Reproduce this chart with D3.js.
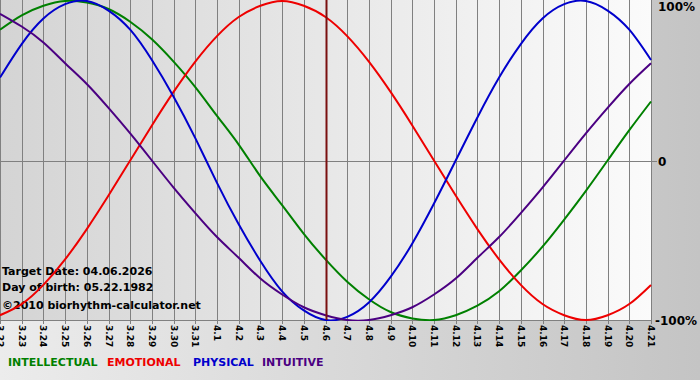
<!DOCTYPE html>
<html>
<head>
<meta charset="utf-8">
<script src="https://cdn.jsdelivr.net/npm/d3@7"></script>
<style>
  body { margin: 0; padding: 0; }
  svg { display: block; }
</style>
</head>
<body>
<svg id="chart"></svg>
<script>
// day labels, 3.22 .. 4.21
var days = ["3.22","3.23","3.24","3.25","3.26","3.27","3.28","3.29","3.30","3.31",
            "4.1","4.2","4.3","4.4","4.5","4.6","4.7","4.8","4.9","4.10",
            "4.11","4.12","4.13","4.14","4.15","4.16","4.17","4.18","4.19","4.20","4.21"]

// values, one per day (-1 .. 1)
var intellectual = [0.82,0.91,0.97,1.00,0.99,0.95,0.87,0.76,0.62,0.46,0.28,0.10,-0.10,-0.28,-0.46,-0.62,
                    -0.76,-0.87,-0.95,-0.99,-1.00,-0.97,-0.91,-0.82,-0.69,-0.54,-0.37,-0.19,0.00,0.19,0.37]
var emotional = [-0.97,-0.90,-0.78,-0.62,-0.43,-0.22,0.00,0.22,0.43,0.62,0.78,0.90,0.97,1.00,0.97,0.90,
                 0.78,0.62,0.43,0.22,0.00,-0.22,-0.43,-0.62,-0.78,-0.90,-0.97,-1.00,-0.97,-0.90,-0.78]
var physical = [0.52,0.73,0.89,0.98,1.00,0.94,0.82,0.63,0.40,0.14,-0.14,-0.40,-0.63,-0.82,-0.94,-1.00,
                -0.98,-0.89,-0.73,-0.52,-0.27,0.00,0.27,0.52,0.73,0.89,0.98,1.00,0.94,0.82,0.63]
var intuitive = [0.92,0.84,0.74,0.61,0.48,0.33,0.17,0.00,-0.17,-0.33,-0.48,-0.61,-0.74,-0.84,-0.92,-0.97,
                 -1.00,-1.00,-0.97,-0.92,-0.84,-0.74,-0.61,-0.48,-0.33,-0.17,0.00,0.17,0.33,0.48,0.61]

var yLabels = ["100%", "0", "-100%"]
var yLabelValues = [1, 0, -1]
var targetIndex = 15

var series = [
    {name: "INTELLECTUAL", values: intellectual, color: "#008000", lx: 8},
    {name: "EMOTIONAL", values: emotional, color: "#ee0000", lx: 107},
    {name: "PHYSICAL", values: physical, color: "#0000cc", lx: 193},
    {name: "INTUITIVE", values: intuitive, color: "#4b0082", lx: 262}
]

var dimensions = {
    width: 700,
    height: 380,
    plot: {left: 0, right: 652, top: 1, bottom: 320}
}

var svg = d3.select("#chart")
    .attr("width", dimensions.width)
    .attr("height", dimensions.height)
    .style("font-family", "Verdana, 'DejaVu Sans', sans-serif")

var defs = svg.append("defs")
var outerGrad = defs.append("linearGradient").attr("id", "outerGrad")
outerGrad.append("stop").attr("offset", "0%").attr("stop-color", "#ececec")
outerGrad.append("stop").attr("offset", "100%").attr("stop-color", "#c4c4c4")
var plotGrad = defs.append("linearGradient").attr("id", "plotGrad")
plotGrad.append("stop").attr("offset", "0%").attr("stop-color", "#d4d4d4")
plotGrad.append("stop").attr("offset", "100%").attr("stop-color", "#fbfbfb")

svg.append("rect")
    .attr("width", dimensions.width)
    .attr("height", dimensions.height)
    .attr("fill", "url(#outerGrad)")

var xScale = d3.scaleLinear()
    .domain([0, days.length - 1])
    .range([dimensions.plot.left, dimensions.plot.right - 1])

var yScale = d3.scaleLinear()
    .domain([-1, 1])
    .range([dimensions.plot.bottom, dimensions.plot.top])

svg.append("rect")
    .attr("x", dimensions.plot.left)
    .attr("y", 0)
    .attr("width", dimensions.plot.right - dimensions.plot.left)
    .attr("height", dimensions.plot.bottom)
    .attr("fill", "url(#plotGrad)")

// vertical day grid
svg.append("g")
    .selectAll("line")
    .data(days)
    .enter()
    .append("line")
    .attr("x1", function(d, i) { return Math.round(xScale(i)) + 0.5 })
    .attr("x2", function(d, i) { return Math.round(xScale(i)) + 0.5 })
    .attr("y1", 0)
    .attr("y2", dimensions.plot.bottom + 4)
    .attr("stroke", "#808080")
    .attr("stroke-width", 1)

// zero line and bottom line
svg.append("line")
    .attr("x1", 0).attr("x2", dimensions.plot.right + 5)
    .attr("y1", Math.round(yScale(0)) + 0.5).attr("y2", Math.round(yScale(0)) + 0.5)
    .attr("stroke", "#808080")
svg.append("line")
    .attr("x1", 0).attr("x2", dimensions.plot.right)
    .attr("y1", dimensions.plot.bottom + 0.5).attr("y2", dimensions.plot.bottom + 0.5)
    .attr("stroke", "#808080")

// x axis labels, rotated
svg.append("g")
    .selectAll("text")
    .data(days)
    .enter()
    .append("text")
    .attr("transform", function(d, i) {
        return "translate(" + (Math.round(xScale(i)) - 3) + "," + (dimensions.plot.bottom + 5) + ") rotate(90)"
    })
    .attr("font-size", "9px")
    .attr("font-weight", "bold")
    .attr("fill", "#000")
    .text(function(d) { return d })

// y labels on the right
svg.append("g")
    .selectAll("text")
    .data(yLabels)
    .enter()
    .append("text")
    .attr("x", function(d) { return d === "-100%" ? 655 : 658 })
    .attr("y", function(d, i) { return yScale(yLabelValues[i]) + (i === 0 ? 10 : 5) })
    .attr("font-size", "12px")
    .attr("font-weight", "bold")
    .attr("fill", "#000")
    .text(function(d) { return d })

// info text
var info = ["Target Date: 04.06.2026", "Day of birth: 05.22.1982", "\u00a92010 biorhythm-calculator.net"]
svg.append("g")
    .selectAll("text")
    .data(info)
    .enter()
    .append("text")
    .attr("x", 2)
    .attr("y", function(d, i) { return 275 + i * 16 + (i === 2 ? 2 : 0) })
    .attr("font-size", "11px")
    .attr("font-weight", "bold")
    .attr("fill", "#000")
    .text(function(d) { return d })

// curves
var line = d3.line()
    .x(function(d, i) { return xScale(i) })
    .y(function(d) { return yScale(d) })
    .curve(d3.curveNatural)

var clip = defs.append("clipPath").attr("id", "plotClip")
clip.append("rect")
    .attr("x", 0).attr("y", 0)
    .attr("width", dimensions.plot.right).attr("height", dimensions.plot.bottom + 1)

svg.append("g")
    .attr("clip-path", "url(#plotClip)")
    .selectAll("path")
    .data(series)
    .enter()
    .append("path")
    .attr("d", function(d) { return line(d.values) })
    .attr("fill", "none")
    .attr("stroke", function(d) { return d.color })
    .attr("stroke-width", 2)

// target day marker
svg.append("line")
    .attr("x1", Math.round(xScale(targetIndex)) + 0.5)
    .attr("x2", Math.round(xScale(targetIndex)) + 0.5)
    .attr("y1", 0)
    .attr("y2", dimensions.plot.bottom)
    .attr("stroke", "#7a1010")
    .attr("stroke-width", 2)

// legend
svg.append("g")
    .selectAll("text")
    .data(series)
    .enter()
    .append("text")
    .attr("x", function(d) { return d.lx })
    .attr("y", 366)
    .attr("font-size", "11px")
    .attr("font-weight", "bold")
    .attr("fill", function(d) { return d.color })
    .text(function(d) { return d.name })
</script>
</body>
</html>
